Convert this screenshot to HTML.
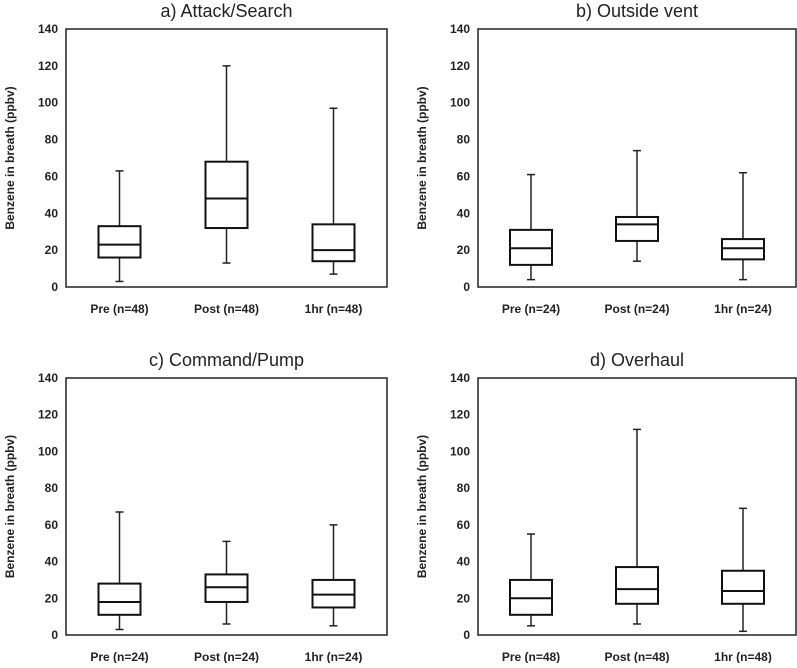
<!DOCTYPE html>
<html><head><meta charset="utf-8"><style>
html,body{margin:0;padding:0;background:#fff;}
svg text{font-family:"Liberation Sans",sans-serif;fill:#222;}
</style></head><body>
<svg id="chart" width="797" height="663" xmlns="http://www.w3.org/2000/svg"></svg>
<script>
const categoriesA = ["Pre (n=48)", "Post (n=48)", "1hr (n=48)"];
const categoriesB = ["Pre (n=24)", "Post (n=24)", "1hr (n=24)"];
const categoriesC = ["Pre (n=24)", "Post (n=24)", "1hr (n=24)"];
const categoriesD = ["Pre (n=48)", "Post (n=48)", "1hr (n=48)"];
// [min, q1, median, q3, max]
const statsA = [[3,16,23,33,63],[13,32,48,68,120],[7,14,20,34,97]];
const statsB = [[4,12,21,31,61],[14,25,34,38,74],[4,15,21,26,62]];
const statsC = [[3,11,18,28,67],[6,18,26,33,51],[5,15,22,30,60]];
const statsD = [[5,11,20,30,55],[6,17,25,37,112],[2,17,24,35,69]];
const titles = ["a) Attack/Search","b) Outside vent","c) Command/Pump","d) Overhaul"];
const yTicks = [0,20,40,60,80,100,120,140];
const yMax = 140;

const NS="http://www.w3.org/2000/svg";
const svg=document.getElementById('chart');
function mk(tag,attrs,parent){const e=document.createElementNS(NS,tag);for(const k in attrs)e.setAttribute(k,attrs[k]);(parent||svg).appendChild(e);return e;}

const panels=[
 {x0:66,x1:387,y0:29,y1:287,cats:categoriesA,stats:statsA,key:'a'},
 {x0:478,x1:796,y0:29,y1:287,cats:categoriesB,stats:statsB,key:'b'},
 {x0:66,x1:387,y0:378,y1:635,cats:categoriesC,stats:statsC,key:'c'},
 {x0:478,x1:796,y0:378,y1:635,cats:categoriesD,stats:statsD,key:'d'}
];
panels.forEach((p,pi)=>{
  const g=mk('g',{});
  
  
  const y=v=>p.y1-(v/yMax)*(p.y1-p.y0);
  const bw=(p.x1-p.x0)/p.cats.length;
  const t=mk('text',{x:(p.x0+p.x1)/2,y:p.y0-12,'text-anchor':'middle','font-size':'18'},g);
  t.textContent=titles[pi];
  
  
  const f=mk('rect',{x:p.x0,y:p.y0,width:p.x1-p.x0,height:p.y1-p.y0,fill:'none',stroke:'#222','stroke-width':'1.5'},g);
  
  
  yTicks.forEach(v=>{
    const tl=mk('text',{x:p.x0-8,y:y(v)+4,'text-anchor':'end','font-size':'12','font-weight':'bold'},g);
    tl.textContent=v;
    
    
  });
  const yl=mk('text',{transform:`translate(${p.x0-52},${(p.y0+p.y1)/2}) rotate(-90)`,'text-anchor':'middle','font-size':'12','font-weight':'bold'},g);
  yl.textContent='Benzene in breath (ppbv)';
  
  
  p.cats.forEach((c,i)=>{
    const cx=p.x0+bw*(i+0.5);
    const s=p.stats[i];
    const bg=mk('g',{},g);
    
    
    mk('line',{x1:cx,x2:cx,y1:y(s[0]),y2:y(s[1]),stroke:'#222','stroke-width':'1.5'},bg);
    mk('line',{x1:cx,x2:cx,y1:y(s[3]),y2:y(s[4]),stroke:'#222','stroke-width':'1.5'},bg);
    mk('line',{x1:cx-4,x2:cx+4,y1:y(s[0]),y2:y(s[0]),stroke:'#222','stroke-width':'1.5'},bg);
    mk('line',{x1:cx-4,x2:cx+4,y1:y(s[4]),y2:y(s[4]),stroke:'#222','stroke-width':'1.5'},bg);
    mk('rect',{x:cx-21,y:y(s[3]),width:42,height:y(s[1])-y(s[3]),fill:'#fff',stroke:'#111','stroke-width':'2'},bg);
    mk('line',{x1:cx-21,x2:cx+21,y1:y(s[2]),y2:y(s[2]),stroke:'#111','stroke-width':'2'},bg);
    const cl=mk('text',{x:cx,y:p.y1+26,'text-anchor':'middle','font-size':'12','font-weight':'bold'},g);
    cl.textContent=c;
    
    
  });
});
</script>
</body></html>
